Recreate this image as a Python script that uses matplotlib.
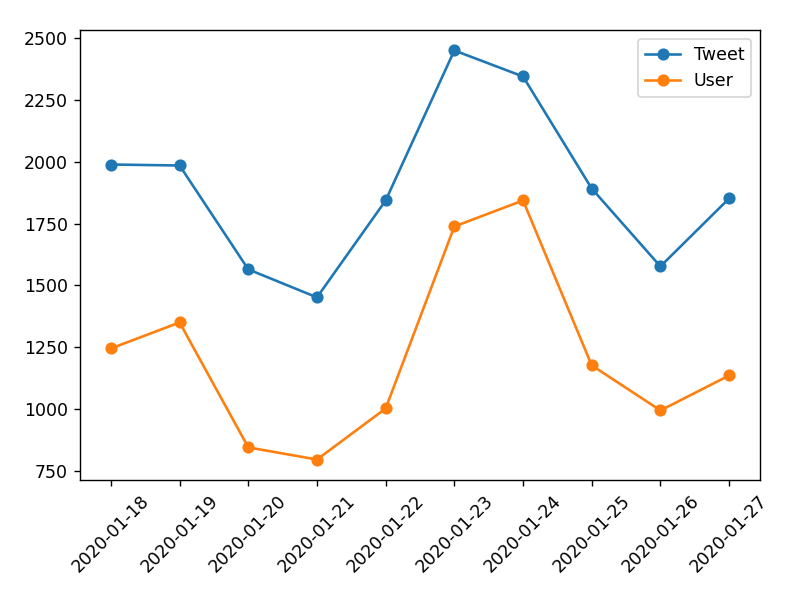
import matplotlib
matplotlib.use("Agg")
import matplotlib.pyplot as plt

dates = ["2020-01-18", "2020-01-19", "2020-01-20", "2020-01-21", "2020-01-22",
         "2020-01-23", "2020-01-24", "2020-01-25", "2020-01-26", "2020-01-27"]
tweet = [1988, 1984, 1565, 1452, 1843, 2448, 2343, 1891, 1577, 1851]
user = [1246, 1351, 847, 798, 1004, 1738, 1843, 1178, 996, 1137]

fig, ax = plt.subplots(figsize=(6.4, 4.8), dpi=125)
ax.plot(dates, tweet, "o-", label="Tweet")
ax.plot(dates, user, "o-", label="User")
ax.set_yticks([750, 1000, 1250, 1500, 1750, 2000, 2250, 2500])
ax.legend()
plt.xticks(rotation=45)
fig.subplots_adjust(left=0.1, right=0.95, top=0.95, bottom=0.2)
fig.savefig("out.png")
